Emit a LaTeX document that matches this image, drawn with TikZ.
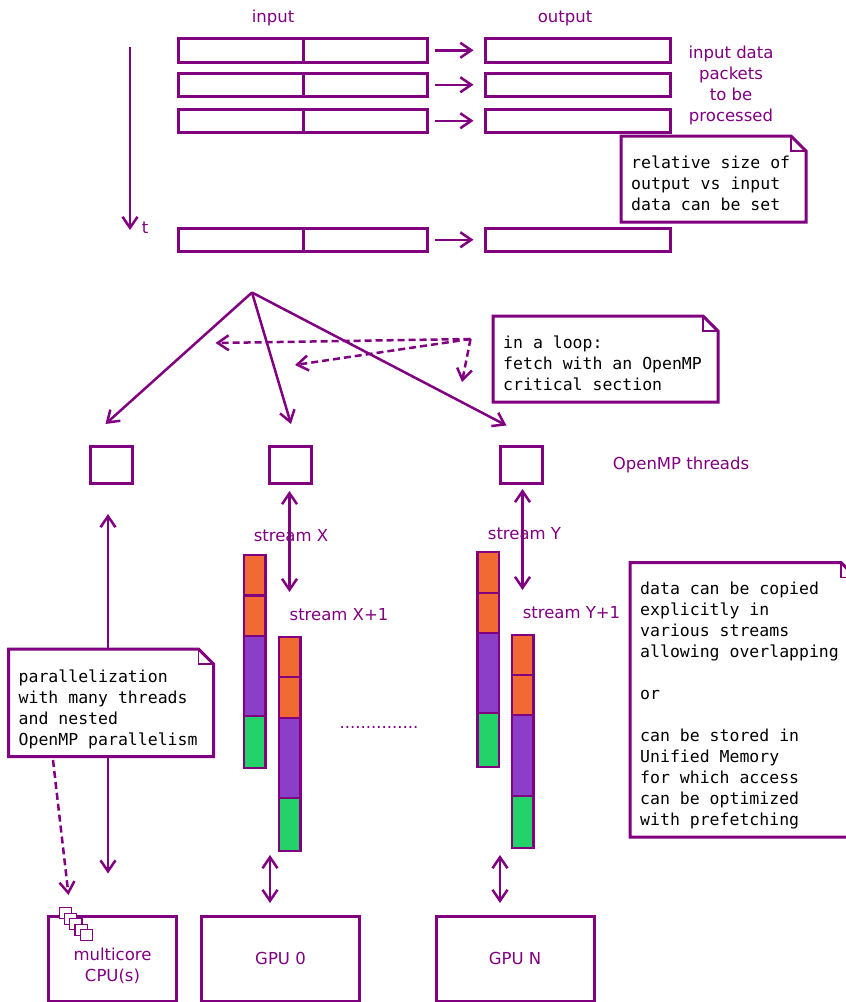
\documentclass[tikz,border=0pt]{standalone}
\usepackage{fontspec}
\setmainfont{DejaVu Sans}
\newfontfamily\notefont{DejaVu Sans Mono}
\usetikzlibrary{arrows.meta}
\definecolor{pcol}{HTML}{800080}
\definecolor{orng}{HTML}{F26A33}
\definecolor{vlt}{HTML}{8B3FC9}
\definecolor{grn}{HTML}{24D26A}
\tikzset{
  barb/.tip={Straight Barb[length=11pt,width=15pt]},
  box/.style={draw=pcol, line width=3pt, inner sep=0pt, outer sep=0pt, fill=white, anchor=north west},
  lbl/.style={text=pcol, font=\fontsize{16.5}{21}\selectfont, inner sep=0pt, align=center, anchor=base},
  notetxt/.style={text=black, font=\notefont\fontsize{16.5}{21}\selectfont, inner sep=0pt, align=left, anchor=base west},
  noteshape/.style={inner sep=0pt, outer sep=0pt, anchor=north west},
  arr/.style={draw=pcol, line width=2.5pt, -barb},
  darr/.style={draw=pcol, line width=2.5pt, barb-barb},
  dsh/.style={arr, dash pattern=on 7pt off 4pt},
  seg/.style={draw=pcol, line width=2.8pt, inner sep=0pt, outer sep=0pt, minimum width=21.5pt, anchor=north west},
  core/.style={draw=pcol, fill=white, line width=1.3pt, inner sep=0pt, minimum width=12.3pt, minimum height=11pt, anchor=north west},
}
\newcommand\dognote[6]{%
  \node[noteshape, minimum width={#4pt-#2pt}, minimum height={#5pt-#3pt}] (#1) at (#2,#3) {};
  \draw[pcol, line width=3pt, fill=white] (#1.south west) -- (#1.north west) -- ([xshift=-15pt]#1.north east) -- ([yshift=-15pt]#1.north east) -- (#1.south east) -- cycle;
  \draw[pcol, line width=1.3pt] ([xshift=-15pt]#1.north east) |- ([yshift=-15pt]#1.north east);
  \node[notetxt] (#1t) at ([shift={(10,-11.5)}]#1.south west) {#6};
}
\newcommand\strbar[7]{%
  \node[seg, fill=orng, minimum height={#4pt-#3pt}] (#1a) at (#2,#3) {};
  \node[seg, fill=orng, minimum height={#5pt-#4pt}] (#1b) at (#2,#4) {};
  \node[seg, fill=vlt, minimum height={#6pt-#5pt}] (#1c) at (#2,#5) {};
  \node[seg, fill=grn, minimum height={#7pt-#6pt}] (#1d) at (#2,#6) {};
}
\begin{document}
\begin{tikzpicture}[x=1pt,y=-1pt]
\useasboundingbox (0,0) rectangle (846,1002);

% ---------- top: packets ----------
\node[lbl] (inlbl) at (273,22) {input};
\node[lbl] (outlbl) at (565,22) {output};
\foreach \r/\yy in {1/38.5, 2/73, 3/109, 4/228} {
  \node[box, minimum width=124.5pt, minimum height=23.5pt] (in\r a) at (178.5,\yy) {};
  \node[box, minimum width=124.5pt, minimum height=23.5pt] (in\r b) at (303,\yy) {};
  \node[box, minimum width=184.5pt, minimum height=23.5pt] (out\r) at (485.5,\yy) {};
  \draw[arr, shorten <=7pt, shorten >=12pt] (in\r b) -- (out\r);
}
\node[lbl] (pkts) at (731,121.5) {input data\\packets\\to be\\processed};

\coordinate (t0) at (130,47);
\coordinate (t1) at (130,230);
\draw[arr] (t0) -- (t1);
\node[lbl] (tlbl) at (145,233) {t};

\dognote{sizenote}{621}{136}{806}{222}{relative size of\\output vs input\\data can be set}

% ---------- fork to threads ----------
\coordinate (fork) at (252,292.5);
\coordinate (f1) at (105.5,424);
\coordinate (f2) at (291,424);
\coordinate (f3) at (506.5,425.5);
\draw[arr] (fork) -- (f1);
\draw[arr] (fork) -- (f2);
\draw[arr] (fork) -- (f3);

\coordinate (src) at (470.5,339);
\coordinate (d1) at (215.5,343);
\coordinate (d2) at (295,365);
\coordinate (d3) at (462,382);
\draw[dsh] (src) -- (d1);
\draw[dsh] (src) -- (d2);
\draw[dsh] (src) -- (d3);

\dognote{loopnote}{493}{316}{718}{402}{in a loop:\\fetch with an OpenMP\\critical section}

\node[box, minimum width=42pt, minimum height=37pt] (th1) at (90,446) {};
\node[box, minimum width=42pt, minimum height=37pt] (th2) at (269,446) {};
\node[box, minimum width=42pt, minimum height=37pt] (th3) at (500,446) {};
\node[lbl] (thlbl) at (681,469) {OpenMP threads};

% ---------- streams ----------
\coordinate (sx0) at (289.5,491);
\coordinate (sx1) at (289.5,592);
\draw[darr] (sx0) -- (sx1);
\coordinate (sy0) at (522.5,489);
\coordinate (sy1) at (522.5,590);
\draw[darr] (sy0) -- (sy1);

\node[lbl] (sxlbl) at (291,541.5) {stream X};
\node[lbl] (sx1lbl) at (339,620.5) {stream X+1};
\node[lbl] (sylbl) at (524.5,539) {stream Y};
\node[lbl] (sy1lbl) at (571.5,618) {stream Y+1};

\strbar{bx}{244}{555}{595.5}{636}{716}{768}
\strbar{bxx}{279}{637}{677}{718}{798}{851}
\strbar{by}{477.5}{552}{593}{633}{713}{767}
\strbar{byy}{512}{635}{675}{715}{796}{848}

\node[lbl, anchor=base west] (dots) at (339.5,728.5) {...............};

\dognote{datanote}{630}{562.5}{856}{837}{data can be copied\\explicitly in\\various streams\\allowing overlapping\\\\or\\\\can be stored in\\Unified Memory\\for which access\\can be optimized\\with prefetching}

% ---------- CPU / GPUs ----------
\node[box, minimum width=127.5pt, minimum height=85pt] (cpu) at (48.5,916) {};
\node[box, minimum width=158pt, minimum height=85pt, text=pcol, font=\fontsize{16.5}{21}\selectfont] (gpu0) at (201.5,916) {GPU 0};
\node[box, minimum width=158pt, minimum height=85pt, text=pcol, font=\fontsize{16.5}{21}\selectfont] (gpuN) at (436,916) {GPU N};
\node[lbl] (cpulbl) at (112.5,981) {multicore\\CPU(s)};
\foreach \i in {0,...,4} {
  \node[core] (core\i) at (58.5+5.25*\i, 907+5.5*\i) {};
}

\coordinate (cu) at (108,514);
\coordinate (cd) at (108,873.5);
\draw[darr] (cu) -- (cd);
\dognote{parnote}{8.5}{649}{213.5}{756.5}{parallelization\\with many threads\\and nested\\OpenMP parallelism}
\coordinate (pd0) at (53,760);
\coordinate (pd1) at (68.5,895);
\draw[dsh] (pd0) -- (pd1);

\coordinate (g0u) at (270,855);
\coordinate (g0d) at (270,903);
\draw[darr] (g0u) -- (g0d);
\coordinate (gNu) at (500,855);
\coordinate (gNd) at (500,903);
\draw[darr] (gNu) -- (gNd);
\end{tikzpicture}
\end{document}
